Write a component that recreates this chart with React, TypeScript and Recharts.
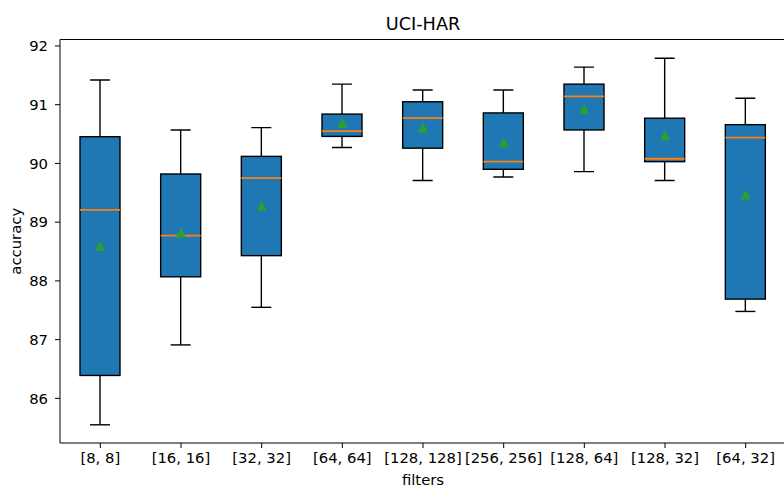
import {
  Bar,
  ComposedChart,
  ReferenceLine,
  Scatter,
  XAxis,
  YAxis,
} from "recharts";

const filters = [
  "[8, 8]",
  "[16, 16]",
  "[32, 32]",
  "[64, 64]",
  "[128, 128]",
  "[256, 256]",
  "[128, 64]",
  "[128, 32]",
  "[64, 32]",
];
const whiskerLow = [85.55, 86.91, 87.55, 90.27, 89.71, 89.77, 89.86, 89.71, 87.48];
const q1 = [86.39, 88.07, 88.43, 90.46, 90.26, 89.9, 90.57, 90.03, 87.69];
const median = [89.21, 88.77, 89.75, 90.55, 90.77, 90.03, 91.14, 90.08, 90.44];
const q3 = [90.455, 89.82, 90.12, 90.84, 91.05, 90.86, 91.35, 90.77, 90.66];
const whiskerHigh = [91.42, 90.57, 90.61, 91.35, 91.25, 91.25, 91.64, 91.79, 91.11];
const mean = [88.6, 88.82, 89.28, 90.69, 90.61, 90.36, 90.93, 90.48, 89.47];
const yTicks = [86, 87, 88, 89, 90, 91, 92];

const Y_MIN = 85.24;
const Y_MAX = 92.11;

const data = filters.map((name, i) => ({
  name,
  range: [whiskerLow[i], whiskerHigh[i]],
  q1: q1[i],
  median: median[i],
  q3: q3[i],
  mean: mean[i],
}));

// draws whiskers, box and median inside the min..max band recharts computed
function BoxShape(props: any) {
  const { x, y, width, height, payload } = props;
  const [lo, hi] = payload.range;
  const py = (v: number) => y + (height * (hi - v)) / (hi - lo);
  const cx = x + width / 2;
  const capW = width / 2;
  const yQ1 = py(payload.q1);
  const yQ3 = py(payload.q3);
  const yMed = py(payload.median);
  const sw = 1.4;
  return (
    <g>
      <line x1={cx} x2={cx} y1={y} y2={yQ3} stroke="#000" strokeWidth={sw} />
      <line x1={cx} x2={cx} y1={yQ1} y2={y + height} stroke="#000" strokeWidth={sw} />
      <line x1={cx - capW / 2} x2={cx + capW / 2} y1={y} y2={y} stroke="#000" strokeWidth={sw} />
      <line
        x1={cx - capW / 2}
        x2={cx + capW / 2}
        y1={y + height}
        y2={y + height}
        stroke="#000"
        strokeWidth={sw}
      />
      <rect
        x={x}
        y={yQ3}
        width={width}
        height={yQ1 - yQ3}
        fill="#1f77b4"
        stroke="#000"
        strokeWidth={sw}
      />
      <line x1={x} x2={x + width} y1={yMed} y2={yMed} stroke="#ff7f0e" strokeWidth={1.8} />
    </g>
  );
}

function Triangle(props: any) {
  const { cx, cy } = props;
  const r = 5;
  return (
    <polygon
      points={`${cx},${cy - r} ${cx - r},${cy + r} ${cx + r},${cy + r}`}
      fill="#2ca02c"
    />
  );
}

const tickStyle = { fontSize: 14.8, fill: "#000", fontFamily: "DejaVu Sans" };

export default function App() {
  return (
    <div
      style={{
        position: "fixed",
        left: 0,
        top: 0,
        width: 784,
        height: 488,
        overflow: "hidden",
        background: "#fff",
        fontFamily: "DejaVu Sans",
      }}
    >
      <ComposedChart
        width={800}
        height={488}
        data={data}
        margin={{ top: 39.5, right: 14, bottom: 0, left: 0 }}
        barCategoryGap={0}
      >
        <XAxis
          dataKey="name"
          interval={0}
          height={45}
          tickSize={5}
          tickMargin={4}
          tick={tickStyle}
          stroke="#000"
          tickLine={{ stroke: "#000" }}
          label={{
            value: "filters",
            position: "insideBottom",
            offset: 3,
            style: { fontSize: 14.8, fill: "#000", fontFamily: "DejaVu Sans" },
          }}
        />
        <YAxis
          type="number"
          domain={[Y_MIN, Y_MAX]}
          ticks={yTicks}
          allowDataOverflow
          width={60}
          tickSize={5}
          tickMargin={7}
          tick={tickStyle}
          stroke="#000"
          tickLine={{ stroke: "#000" }}
          label={{
            value: "accuracy",
            angle: -90,
            position: "insideLeft",
            offset: 16,
            style: {
              fontSize: 14.8,
              fill: "#000",
              fontFamily: "DejaVu Sans",
              textAnchor: "middle",
            },
          }}
        />
        <ReferenceLine
          y={Y_MAX}
          stroke="#000"
          ifOverflow="visible"
          label={{
            value: "UCI-HAR",
            position: "top",
            offset: 9.5,
            style: { fontSize: 17.7, fill: "#000", fontFamily: "DejaVu Sans" },
          }}
        />
        <Bar
          dataKey="range"
          barSize={40}
          shape={<BoxShape />}
          isAnimationActive={false}
        />
        <Scatter dataKey="mean" shape={<Triangle />} isAnimationActive={false} />
      </ComposedChart>
    </div>
  );
}
